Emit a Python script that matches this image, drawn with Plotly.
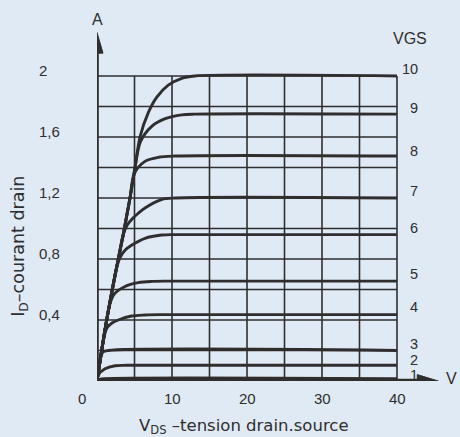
import plotly.graph_objects as go

# Output characteristics of a power MOSFET: I_D versus V_DS for VGS = 1 ... 10 V
VGS_LABELS = ["1", "2", "3", "4", "5", "6", "7", "8", "9", "10"]

VDS_1 = [0, 0.3, 1.0, 40]
ID_1 = [0, 0.01, 0.015, 0.015]

VDS_2 = [0, 0.18, 1.07, 2.4, 4.0, 40]
ID_2 = [0, 0.04, 0.08, 0.1, 0.103, 0.103]

VDS_3 = [0, 0.45, 0.8, 1.5, 40]
ID_3 = [0, 0.15, 0.19, 0.2, 0.2]

VDS_4 = [0, 0.62, 1.0, 1.29, 2.0, 2.84, 4.6, 6.4, 8.5, 40]
ID_4 = [0, 0.2, 0.3, 0.345, 0.38, 0.40, 0.426, 0.433, 0.435, 0.435]

VDS_5 = [0, 0.62, 1.29, 1.75, 2.3, 3.73, 5.5, 7.3, 9.5, 40]
ID_5 = [0, 0.2, 0.4, 0.51, 0.57, 0.62, 0.645, 0.653, 0.655, 0.655]

VDS_6 = [0, 0.62, 1.29, 2.04, 2.6, 3.07, 3.8, 4.6, 6.4, 8.6, 10.5, 40]
ID_6 = [0, 0.2, 0.4, 0.6, 0.74, 0.81, 0.86, 0.89, 0.936, 0.957, 0.96, 0.96]

VDS_7 = [0, 0.62, 1.29, 2.04, 2.84, 3.5, 4.0, 4.84, 5.5, 6.4, 8.6, 10.5, 40]
ID_7 = [0, 0.2, 0.4, 0.6, 0.8, 0.96, 1.02, 1.07, 1.1, 1.135, 1.19, 1.2, 1.2]

VDS_8 = [0, 0.62, 1.29, 2.04, 2.84, 3.5, 3.95, 4.4, 4.98, 6.4, 8.2, 10.4, 40]
ID_8 = [0, 0.2, 0.4, 0.6, 0.8, 0.96, 1.08, 1.2, 1.36, 1.44, 1.467, 1.475, 1.475]

VDS_9 = [0, 0.62, 1.29, 2.04, 2.84, 3.5, 3.95, 4.4, 5.07, 5.8, 7.3, 9.1, 11.3, 13, 40]
ID_9 = [0, 0.2, 0.4, 0.6, 0.8, 0.96, 1.08, 1.2, 1.4, 1.57, 1.67, 1.72, 1.745, 1.75, 1.75]

VDS_10 = [0, 0.62, 1.29, 2.04, 2.84, 3.5, 3.95, 4.4, 5.07, 5.73, 6.84, 7.95, 9.5, 11.3, 13, 40]
ID_10 = [0, 0.2, 0.4, 0.6, 0.8, 0.96, 1.08, 1.2, 1.4, 1.6, 1.76, 1.86, 1.94, 1.985, 2.0, 2.0]

CURVES = [
    (VDS_1, ID_1), (VDS_2, ID_2), (VDS_3, ID_3), (VDS_4, ID_4), (VDS_5, ID_5),
    (VDS_6, ID_6), (VDS_7, ID_7), (VDS_8, ID_8), (VDS_9, ID_9), (VDS_10, ID_10),
]

X_TICKS = [0, 10, 20, 30, 40]
X_TICK_TEXT = ["0", "10", "20", "30", "40"]
Y_TICKS = [0.4, 0.8, 1.2, 1.6, 2.0]
Y_TICK_TEXT = ["0,4", "0,8", "1,2", "1,6", "2"]

X_GRID = [5, 10, 15, 20, 25, 30, 35, 40]
Y_GRID = [0.2, 0.4, 0.6, 0.8, 1.0, 1.2, 1.4, 1.6, 1.8, 2.0]

INK = "#2e2e2e"
PAPER = "#e0eaf4"
NUM_FONT = "Liberation Sans, Arial, sans-serif"
TITLE_FONT = "DejaVu Sans, sans-serif"

# vertical offset (px) of each VGS label above its curve
LABEL_LIFT = [4, 5, 7, 8, 7, 7, 7, 5, 6, 7]

fig = go.Figure()

for vds, i_d in CURVES:
    fig.add_trace(go.Scatter(
        x=vds, y=i_d, mode="lines",
        line=dict(color=INK, width=2.9, shape="spline", smoothing=0.9),
        hoverinfo="skip", showlegend=False, cliponaxis=False,
    ))

shapes = []
# grid
for gx in X_GRID:
    shapes.append(dict(type="line", xref="x", yref="y", x0=gx, x1=gx, y0=0, y1=2.0,
                       line=dict(color=INK, width=1.6), layer="below"))
for gy in Y_GRID:
    shapes.append(dict(type="line", xref="x", yref="y", x0=0, x1=40, y0=gy, y1=gy,
                       line=dict(color=INK, width=1.6), layer="below"))

# axes with arrows
shapes.append(dict(type="line", xref="x", yref="y", x0=0, x1=0, y0=0, y1=2.16,
                   line=dict(color=INK, width=3.6)))
shapes.append(dict(type="line", xref="x", yref="y", x0=-0.2, x1=42.9, y0=0, y1=0,
                   line=dict(color=INK, width=4.6)))
shapes.append(dict(type="path", xref="x", yref="y",
                   path="M -0.8 2.15 L 0.8 2.15 L 0 2.285 Z",
                   fillcolor=INK, line=dict(color=INK, width=1)))
shapes.append(dict(type="path", xref="x", yref="y",
                   path="M 42.7 -0.042 L 42.7 0.042 L 45.5 0 Z",
                   fillcolor=INK, line=dict(color=INK, width=1)))

annotations = []
tick_font = dict(family=NUM_FONT, size=15, color=INK)
for v, t in zip(X_TICKS, X_TICK_TEXT):
    annotations.append(dict(x=v, y=0, xref="x", yref="y", text=t, showarrow=False,
                            xanchor="center", yanchor="middle",
                            xshift=-15 if v == 0 else 0, yshift=-17, font=tick_font))
for v, t in zip(Y_TICKS, Y_TICK_TEXT):
    annotations.append(dict(x=0, y=v, xref="x", yref="y", text=t, showarrow=False,
                            xanchor="left", yanchor="middle",
                            xshift=-60, yshift=6, font=tick_font))

# VGS labels at the right end of each curve
for (vds, i_d), lab, lift in zip(CURVES, VGS_LABELS, LABEL_LIFT):
    annotations.append(dict(x=40, y=i_d[-1], xref="x", yref="y", text=lab,
                            showarrow=False, xanchor="right", yanchor="middle",
                            xshift=22, yshift=lift, borderpad=0,
                            font=dict(family=NUM_FONT, size=14.5, color=INK)))

annotations.append(dict(x=40, y=2.0, xref="x", yref="y", text="VGS", showarrow=False,
                        xanchor="center", yanchor="middle", xshift=13, yshift=38,
                        font=dict(family=NUM_FONT, size=16, color=INK)))
annotations.append(dict(x=0, y=2.0, xref="x", yref="y", text="A", showarrow=False,
                        xanchor="center", yanchor="middle", yshift=57,
                        font=dict(family=NUM_FONT, size=16, color=INK)))
annotations.append(dict(x=40, y=0, xref="x", yref="y", text="V", showarrow=False,
                        xanchor="center", yanchor="middle", xshift=54, yshift=3,
                        borderpad=0, font=dict(family=NUM_FONT, size=16, color=INK)))

# axis titles
annotations.append(dict(x=20, y=0, xref="x", yref="y",
                        text="V<sub>DS</sub> –tension drain.source", showarrow=False,
                        xanchor="center", yanchor="middle", yshift=-45, xshift=-3,
                        font=dict(family=TITLE_FONT, size=16.5, color=INK)))
annotations.append(dict(x=0, y=0.88, xref="x", yref="y",
                        text="I<sub>D</sub>–courant drain", showarrow=False,
                        textangle=-90, xanchor="center", yanchor="middle",
                        xshift=-77,
                        font=dict(family=TITLE_FONT, size=17.5, color=INK)))

fig.update_layout(
    width=460, height=437,
    margin=dict(l=97, r=18, t=15, b=56),
    paper_bgcolor=PAPER, plot_bgcolor=PAPER,
    xaxis=dict(range=[0, 46], visible=False, fixedrange=True),
    yaxis=dict(range=[0, 2.4], visible=False, fixedrange=True),
    shapes=shapes, annotations=annotations,
)

fig.write_html("out.html")
